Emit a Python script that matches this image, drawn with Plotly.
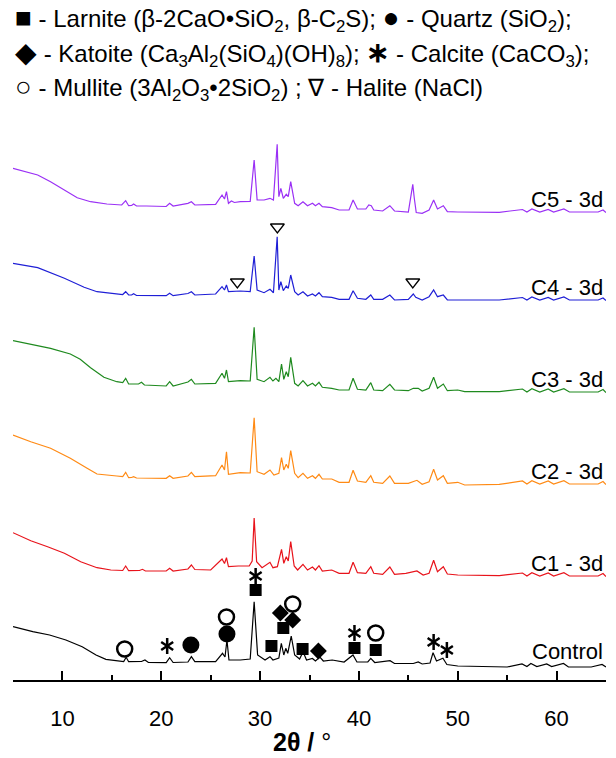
import plotly.graph_objects as go

# ---------------- data (2theta in degrees, intensity in a.u.) ----------------
tt_control = [5.0, 7.0, 8.7, 10.35, 12.0, 13.4, 14.4, 15.75, 16.2, 16.45, 16.7, 18.0, 18.35, 18.7, 20.5, 20.85, 21.2, 22.7, 23.05, 23.4,
              25.5, 26.2, 26.45, 26.65, 26.85, 28.0, 29.0, 29.4, 29.75, 30.5, 31.0, 31.3, 31.9, 32.15, 32.4, 32.6, 32.8, 33.15, 33.5, 34.0,
              34.35, 34.7, 35.3, 35.6, 36.05, 36.4, 37.3, 38.5, 39.4, 39.8, 40.9, 41.2, 41.6, 43.15, 43.6, 45.5, 46.0, 46.4, 47.2, 47.5,
              47.85, 48.5, 48.9, 50.0, 52.0, 55.0, 56.5, 57.0, 57.4, 58.0, 59.0, 59.5, 60.7, 61.2, 63.5, 64.6, 65.0]
int_control = [40.3, 35.3, 32, 27, 20.3, 12, 7.7, 6, 5.5, 9.7, 5.3, 5.5, 7, 4.5, 4.3, 9.3, 4.5, 5, 10.3, 5.3,
               5.3, 13.7, 10, 27, 7, 7, 8, 65.3, 12, 7, 10.3, 7, 9, 23.7, 12, 18.7, 13.7, 31, 12, 8,
               15.3, 7, 8.5, 6, 10, 6, 7, 5, 12, 5, 5, 8.7, 4.5, 6.3, 3.5, 3.5, 5, 3, 4, 14.3,
               6, 8.7, 2.5, 1, 0.5, 0, 3, 0.5, 3.5, 0.5, 3, 0.5, 3.5, 0, 0, 2.5, 0]

tt_c1 = [5.0, 6.8, 8.5, 10.2, 11.85, 13.5, 14.9, 16.1, 16.4, 16.7, 17.8, 18.1, 18.4, 20.5, 20.85, 21.2, 22.7, 23.05, 23.4, 25.0,
         26.15, 26.4, 26.6, 26.8, 27.8, 28.9, 29.2, 29.4, 29.65, 30.2, 31.0, 31.3, 31.75, 32.17, 32.4, 32.65, 32.85, 33.1, 33.45, 33.8,
         34.34, 34.8, 35.3, 35.6, 35.96, 36.3, 37.25, 38.0, 39.0, 39.41, 39.85, 40.7, 41.2, 41.5, 42.4, 43.13, 43.6, 44.75, 45.87, 46.5,
         47.1, 47.56, 47.95, 48.54, 48.95, 50.0, 54.2, 56.55, 57.0, 57.5, 58.3, 59.15, 59.7, 60.74, 61.3, 64.2, 64.7, 65.0]
int_c1 = [43.3, 35.3, 29.3, 22.7, 14.3, 8.3, 6, 5.5, 10, 5.3, 5.5, 6.7, 5, 5, 7.7, 5, 7, 11, 6.5, 6,
          17, 12.5, 18.3, 9.3, 10, 10, 15, 58, 14.3, 8.3, 13.7, 8.3, 9.3, 26.7, 12.7, 19.3, 15, 34.3, 10, 6,
          11.7, 6, 9, 6, 10.3, 5, 6, 2.7, 2.7, 13.7, 3.3, 2.7, 9.3, 2.7, 1.7, 9, 1.7, 2.7, 5, 1,
          2.7, 15.7, 4.3, 9.3, 2, 1, 0.3, 3, 0, 3.3, 0, 3, 0, 3.3, 0, 0, 2.5, -0.5]

tt_c2 = [5.0, 6.8, 8.8, 10.8, 12.5, 13.5, 15.5, 16.1, 16.4, 16.7, 17.0, 17.2, 17.5, 20.5, 20.85, 21.2, 22.7, 23.05, 23.4, 25.5,
         26.15, 26.4, 26.6, 26.8, 28.0, 29.0, 29.4, 29.7, 30.4, 31.0, 31.4, 31.9, 32.17, 32.4, 32.65, 32.85, 33.1, 33.5, 33.85, 34.34,
         34.8, 35.3, 35.6, 35.96, 36.3, 37.25, 38.0, 39.0, 39.41, 39.85, 40.7, 41.2, 41.5, 42.4, 43.13, 43.6, 45.0, 45.87, 46.4, 47.1,
         47.56, 47.95, 48.54, 48.95, 50.0, 50.7, 54.2, 56.55, 57.0, 57.5, 58.3, 59.15, 59.7, 60.74, 61.3, 64.2, 64.7, 65.0]
int_c2 = [49, 42.3, 35.7, 25.7, 15.7, 10, 8, 7.5, 11.7, 6.3, 6.5, 7.3, 6, 5.7, 8.3, 5.7, 8, 11.7, 7.3, 8.3,
          19, 14, 32.3, 9.7, 11.3, 11, 66.3, 12.3, 9.7, 14, 9, 10.7, 26.3, 14, 19.7, 15.7, 33.3, 10.7, 6.3, 10.7,
          5.7, 8.3, 5.7, 9.7, 5, 5, 1.7, 1.7, 13.7, 3, 1.7, 8.3, 1.7, 0.7, 8, 0.7, 0.7, 3.7, -0.3, 2.3,
          14.7, 4, 8.3, 0.7, 1.7, -1, -0.3, 3, 0, 3.3, 0, 3, 0, 3.3, 0, 0, 2.5, -0.5]

tt_c3 = [5.0, 7.0, 8.8, 10.8, 11.8, 12.85, 14.2, 15.5, 16.1, 16.4, 16.7, 17.7, 18.0, 18.3, 20.0, 20.5, 20.85, 21.2, 22.7, 23.05,
         23.4, 25.5, 26.15, 26.4, 26.6, 26.8, 28.0, 29.0, 29.4, 29.7, 30.4, 31.0, 31.3, 31.6, 31.9, 32.17, 32.4, 32.65, 32.85, 33.1,
         33.5, 33.85, 34.34, 34.8, 35.3, 35.6, 35.96, 36.3, 37.25, 38.0, 39.0, 39.41, 39.85, 40.7, 41.2, 41.5, 42.4, 43.13, 43.6, 45.0,
         45.5, 46.0, 46.4, 47.1, 47.56, 47.95, 48.54, 48.95, 50.0, 50.7, 54.2, 56.55, 57.0, 57.5, 58.3, 59.15, 59.7, 60.74, 61.3, 64.2,
         64.7, 65.0]
int_c3 = [51.3, 47, 43.7, 38, 32.7, 24.3, 14.7, 10.3, 9.5, 13.7, 8, 8, 9.7, 7, 6, 6, 10.3, 6, 10, 12.7,
          8, 8.7, 18.7, 13.7, 22, 10.3, 11.3, 11, 64.7, 12.7, 10.3, 14.7, 11, 13.7, 10.3, 28, 12.7, 20.3, 15.3, 34.7,
          8.7, 6, 11.3, 6, 8.7, 6, 9.7, 4.7, 3.7, 2, 2, 13.7, 2.7, 2, 9.3, 2, 1.3, 7.7, 2, 1.3,
          3.7, 3.7, 1, 3.7, 14.7, 3.7, 8, 1.3, 2, 0.3, 0.3, 3, 0, 3.3, 0, 3, 0, 3.3, 0, 0,
          2.5, -0.5]

tt_c4 = [5.0, 7.5, 10.2, 12.2, 13.5, 15.5, 16.1, 16.4, 16.7, 17.0, 17.2, 17.5, 20.5, 20.85, 21.2, 22.7, 23.05, 23.4, 25.5, 26.15,
         26.4, 26.6, 26.8, 28.0, 29.0, 29.4, 29.7, 30.4, 31.0, 31.35, 31.73, 31.9, 32.1, 32.35, 32.65, 32.85, 33.1, 33.5, 33.85, 34.34,
         34.8, 35.3, 35.6, 35.96, 36.3, 37.25, 38.0, 39.0, 39.41, 39.85, 40.7, 41.2, 41.5, 42.4, 43.13, 43.6, 45.0, 45.5, 45.75, 46.4,
         47.1, 47.56, 47.95, 48.54, 48.95, 50.0, 54.2, 56.55, 57.0, 57.5, 58.3, 59.15, 59.7, 60.74, 61.3, 64.2, 64.7, 65.0]
int_c4 = [36.7, 32.3, 21.7, 12.7, 8.3, 6, 5.5, 8.3, 5, 5, 6.3, 4.5, 4.3, 6.7, 4.3, 6.5, 8.3, 5, 6, 13.3,
          10, 15, 8.3, 9, 8.5, 44, 10, 7.3, 10.7, 7.3, 63.3, 10, 18.3, 9.3, 14, 11.7, 25, 8.3, 5, 8.3,
          4, 6, 4, 7.3, 3.3, 2.7, 0.7, 0.7, 9.3, 1.7, 0.7, 5, 0.7, 0.7, 5, 0, 0.7, 6, 2.7, 0,
          3.3, 10, 3.3, 5, 0, 0, 0, 2.5, 0, 3, 0, 2.5, 0, 3, 0, 0, 2, -0.5]

tt_c5 = [5.0, 7.5, 8.8, 10.2, 11.5, 12.85, 14.5, 16.0, 16.4, 16.7, 17.0, 17.2, 17.5, 18.5, 20.5, 20.85, 21.2, 22.7, 23.05, 23.4,
         25.5, 26.15, 26.4, 26.6, 26.8, 27.1, 27.4, 28.0, 29.0, 29.4, 29.7, 30.4, 31.0, 31.35, 31.73, 31.9, 32.1, 32.35, 32.65, 32.85,
         33.1, 33.5, 33.85, 34.34, 34.8, 35.3, 35.6, 35.96, 36.3, 37.25, 38.0, 39.0, 39.41, 39.85, 40.7, 41.0, 41.25, 41.5, 42.4, 43.13,
         43.6, 45.0, 45.45, 45.6, 45.8, 46.4, 47.1, 47.56, 47.95, 48.54, 48.95, 50.0, 54.2, 56.55, 57.0, 57.5, 58.3, 59.15, 59.7, 60.74,
         61.3, 64.2, 64.7, 65.0]
int_c5 = [43.7, 37, 30.3, 22, 14.3, 10.3, 8, 7, 11.3, 6.3, 6.5, 8, 6, 6, 5.5, 8.7, 6, 8.7, 10.3, 7,
          7.7, 17, 13, 20.3, 8.7, 11, 9.5, 10.3, 10.5, 52, 12, 12, 13.7, 12, 67.7, 15.3, 23.7, 13.7, 17.7, 15.3,
          30.3, 8.7, 6.3, 10.3, 6.3, 8.7, 6.3, 8.7, 5.3, 4.3, 2, 2, 12, 3, 3, 7, 6.3, 2, 1, 6.3,
          1, 0, 27.7, 14, -0.5, -1.3, 2, 12, 3, 6.3, 0.3, 0, -0.3, 2.5, 0, 3, 0, 2.5, 0, 3,
          0, 0, 2, -0.5]

sample_names = ["Control", "C1 - 3d", "C2 - 3d", "C3 - 3d", "C4 - 3d", "C5 - 3d"]
sample_colors = ["#000000", "#E8131B", "#FF8A14", "#1F8A1F", "#1F1FD6", "#9A30F5"]
stack_offsets = [13, 104, 196, 288, 380, 468]
tt_all = [tt_control, tt_c1, tt_c2, tt_c3, tt_c4, tt_c5]
int_all = [int_control, int_c1, int_c2, int_c3, int_c4, int_c5]

# phase marks (2theta, height on the stacked scale)
larnite_tt = [29.55, 31.15, 32.35, 34.3, 39.55, 41.7]
larnite_h = [90, 34, 52, 31, 32, 30]
quartz_tt = [23.0, 26.65]
quartz_h = [35, 46]
katoite_tt = [32.05, 33.3, 35.9]
katoite_h = [67, 60, 29]
calcite_tt = [20.6, 29.55, 39.55, 47.56, 48.9]
calcite_h = [34, 104, 47, 38, 30]
mullite_tt = [16.3, 26.6, 33.3, 41.7]
mullite_h = [31, 63, 76, 47]
halite_tt = [27.7, 31.75, 45.45]
halite_h = [398, 453, 398]

FONT = "Arial, Liberation Sans, sans-serif"

fig = go.Figure()
for name, col, off, tt, ii in zip(sample_names, sample_colors, stack_offsets, tt_all, int_all):
    fig.add_trace(go.Scatter(x=tt, y=[v + off for v in ii], mode="lines",
                             line=dict(color=col, width=1.2), name=name, showlegend=False))
    lab_dy = 16 if name == "Control" else 13
    fig.add_annotation(x=64.9, y=off + lab_dy, xref="x", yref="y", text=name, showarrow=False,
                       xanchor="right", yanchor="middle", font=dict(family=FONT, size=22, color="black"))

def marks(xs, ys, symbol, size, lw=0, color="black"):
    fig.add_trace(go.Scatter(x=xs, y=ys, mode="markers", showlegend=False,
                             marker=dict(symbol=symbol, size=size, color=color,
                                         line=dict(width=lw, color="black"))))

marks(larnite_tt, larnite_h, "square", 12)
marks(quartz_tt, quartz_h, "circle", 17)
marks(katoite_tt, katoite_h, "diamond", 13)
marks(mullite_tt, mullite_h, "circle-open", 15, 2.5)
marks(calcite_tt, calcite_h, "y-up-open", 10, 2.5)
marks(calcite_tt, calcite_h, "y-down-open", 10, 2.5)
marks(halite_tt, halite_h, "triangle-down-open", 12, 1.3)

S = "<span style='font-size:28px'>%s</span>"
legend_lines = [
    S % "■" + " - Larnite (β-2CaO•SiO<sub>2</sub>, β-C<sub>2</sub>S); " + S % "●" + " - Quartz (SiO<sub>2</sub>);",
    S % "◆" + " - Katoite (Ca<sub>3</sub>Al<sub>2</sub>(SiO<sub>4</sub>)(OH)<sub>8</sub>); " + S % "<b>∗</b>" + " - Calcite (CaCO<sub>3</sub>);",
    S % "○" + " - Mullite (3Al<sub>2</sub>O<sub>3</sub>•2SiO<sub>2</sub>) ; ∇ - Halite (NaCl)",
]
legend_y = [1.140, 1.079, 1.021]
for txt, yy in zip(legend_lines, legend_y):
    fig.add_annotation(x=0.0, y=yy, xref="paper", yref="paper", text=txt, showarrow=False,
                       xanchor="left", yanchor="middle", font=dict(family=FONT, size=24, color="black"))

fig.add_annotation(x=0.487, y=-0.107, xref="paper", yref="paper", text="<b>2θ /</b> °", showarrow=False,
                   xanchor="center", yanchor="middle", font=dict(family=FONT, size=25, color="black"))

fig.update_xaxes(range=[5, 65], showline=True, linecolor="black", linewidth=2, ticks="inside",
                 ticklen=9, tickwidth=2, tickcolor="black", tick0=10, dtick=10, showgrid=False, zeroline=False,
                 ticklabelstandoff=18, tickfont=dict(family=FONT, size=22, color="black"),
                 minor=dict(ticks="inside", ticklen=5, tickwidth=2, tickcolor="black", tick0=5, dtick=5, showgrid=False))
fig.update_yaxes(range=[0, 580], visible=False)
fig.update_layout(width=616, height=758, margin=dict(l=13, r=10, t=100, b=78),
                  paper_bgcolor="white", plot_bgcolor="white", showlegend=False)
fig.write_html("out.html")
